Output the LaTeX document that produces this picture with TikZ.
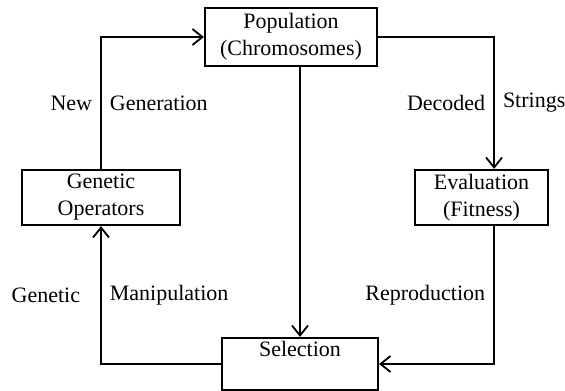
\documentclass[tikz,border=0pt]{standalone}
\usepackage{fontspec}
\setmainfont{Liberation Serif}
\usetikzlibrary{arrows.meta}
\tikzset{
  x = 0.5pt, % one unit = one pixel of the sketch
  y = -0.5pt, % y runs downwards
  stage/.style = { % box for one stage of the loop
    draw,
    line width = 1.1pt,
    align = center,
    inner sep = 0pt, % size set by minimum width/height
    minimum width = #1,
    font = \fontsize{11}{13.5}\selectfont,
  },
  flow/.style = { % connector with open arrow tip
    line width = 0.9pt,
    -{Straight Barb[length=5pt,width=8pt]},
  },
  lbl/.style = { % text beside a connector
    font = \fontsize{11}{13.5}\selectfont,
    inner sep = 4pt,
  },
}

\begin{document}
\begin{tikzpicture}
    \useasboundingbox (0,0) rectangle (565,390); % keep the sketch margins
    \node[stage=86pt,minimum height=29pt] (pop) at (291,37) {Population\\(Chromosomes)}; % top box
    \node[stage=79pt,minimum height=27.5pt] (genop) at (101,197.5) {Genetic\\Operators}; % left box
    \node[stage=66.5pt,minimum height=27.5pt] (eval) at (481.5,197.5) {Evaluation\\(Fitness)}; % right box
    \node[stage=78pt,text height=9pt,text depth=17pt] (sel) at (300,364) {Selection}; % bottom box
    % right branch
    \draw[flow] (pop.east) -- ++(116,0) coordinate (rc)
      -- node[lbl,left]{Decoded} node[lbl,right]{Strings} (rc |- eval.north);
    \draw[flow] (rc |- eval.south) -- node[lbl,left]{Reproduction} (rc |- sel.east) -- (sel.east);
    % left branch
    \draw[flow] (sel.west) -- (genop.south |- sel.west)
      -- node[lbl,left,xshift=-6pt]{Genetic} node[lbl,right]{Manipulation} (genop.south);
    \draw[flow] (genop.north) -- node[lbl,left]{New} node[lbl,right]{Generation} (genop.north |- pop.west) -- (pop.west);
    % middle
    \draw[flow] (sel.north |- pop.south) -- (sel.north);
  \end{tikzpicture}
\end{document}
